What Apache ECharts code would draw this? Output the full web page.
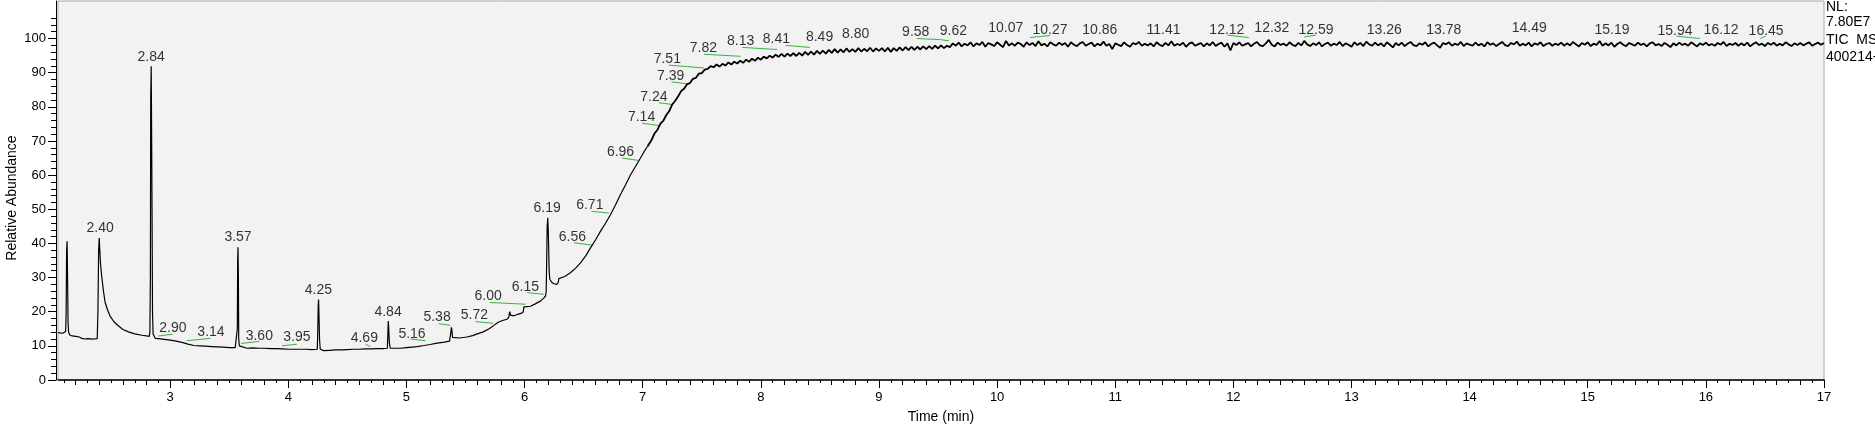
<!DOCTYPE html>
<html>
<head>
<meta charset="utf-8">
<script src="https://cdn.jsdelivr.net/npm/echarts@6/dist/echarts.min.js"></script>
<style>
  html, body { margin: 0; padding: 0; background: #fff; }
  #chartDiv { width: 1875px; height: 429px; }
</style>
</head>
<body>
<div id="chartDiv"></div>
<script>
// chart
let myChart = echarts.init(document.getElementById('chartDiv'));
window.onresize = myChart.resize;

// axis values
const xMin = 2.05, xMax = 17;
const yMin = 0, yMax = 111;
const timeLabels = [3, 4, 5, 6, 7, 8, 9, 10, 11, 12, 13, 14, 15, 16, 17];
const abundLabels = [0, 10, 20, 30, 40, 50, 60, 70, 80, 90, 100];

// trace before the plateau: [time, relative abundance]
const earlyTrace = [
    [2.051,13.9],[2.07,13.8],[2.09,13.7],[2.105,13.8],[2.115,14.2],[2.119,20],[2.123,38],[2.127,40.6],
    [2.131,30],[2.135,17],[2.14,14],[2.15,13.2],[2.17,12.9],[2.20,12.8],[2.23,12.6],[2.25,12.2],
    [2.28,12.0],[2.30,12.1],[2.35,12.0],[2.382,12.1],[2.388,20],[2.394,38],[2.399,41.6],[2.404,38],
    [2.41,34],[2.42,30.4],[2.435,26],[2.449,22.7],[2.47,20.5],[2.49,18.8],[2.52,17.2],[2.562,15.8],
    [2.60,14.8],[2.647,14.1],[2.70,13.5],[2.76,13.1],[2.80,12.9],[2.822,12.8],[2.828,14],[2.832,30],
    [2.835,82.7],[2.839,91.9],[2.843,70],[2.846,49.6],[2.850,20],[2.855,13.5],[2.873,12.2],
    [2.90,12.1],[2.95,11.9],[3.00,11.7],[3.05,11.4],[3.10,11.0],[3.15,10.5],[3.20,10.1],[3.25,10.0],
    [3.30,9.9],[3.35,9.8],[3.40,9.7],[3.45,9.6],[3.50,9.5],[3.55,9.5],[3.565,9.6],[3.568,15],
    [3.571,35],[3.574,38.9],[3.577,30],[3.580,12],[3.585,10],[3.60,9.5],[3.65,9.3],[3.70,9.4],
    [3.75,9.3],[3.80,9.3],[3.85,9.2],[3.90,9.2],[3.95,9.1],[4.00,9.0],[4.05,9.0],[4.10,9.0],
    [4.15,9.0],[4.20,8.9],[4.245,9.0],[4.249,14],[4.253,22],[4.256,23.6],[4.26,18],[4.264,12],
    [4.27,9.0],[4.277,8.5],[4.30,8.6],[4.35,8.7],[4.40,8.8],[4.45,8.8],[4.50,8.9],[4.55,9.0],
    [4.60,9.0],[4.65,9.1],[4.70,9.1],[4.75,9.2],[4.80,9.2],[4.838,9.3],[4.842,13],[4.846,17.3],
    [4.85,15],[4.855,11],[4.862,9.3],[4.878,9.0],[4.95,9.3],[5.00,9.5],[5.09,9.8],[5.15,10.1],
    [5.20,10.4],[5.26,10.8],[5.32,11.1],[5.365,11.4],[5.372,11.5],[5.376,14],[5.380,15.4],[5.384,14.8],
    [5.39,12.5],[5.40,12.0],[5.45,12.3],[5.51,12.6],[5.56,13.0],[5.60,13.5],[5.65,14.1],[5.70,15.0],
    [5.74,16.0],[5.78,17.0],[5.82,17.5],[5.852,17.8],[5.866,18.4],[5.874,20.0],[5.88,19.0],[5.908,18.8],
    [5.94,19.2],[5.97,19.5],[5.988,19.9],[5.994,21.4],[5.999,21.7],[6.02,21.5],[6.05,21.6],[6.09,22.3],
    [6.134,23.1],[6.16,23.9],[6.177,24.6],[6.183,26],[6.187,35],[6.191,45],[6.196,47.5],[6.200,44],
    [6.204,38],[6.208,32],[6.213,29.5],[6.233,28.5],[6.25,28.2],[6.27,28.0],[6.285,28.6],[6.29,29.7],
    [6.295,29.2],[6.304,29.5],[6.34,30.3],[6.388,31.4],[6.43,32.7],[6.473,34.3],[6.52,36.5],[6.558,38.7],
    [6.60,41.0],[6.643,43.6],[6.685,45.9],[6.727,48.4],[6.77,51.3],[6.812,54.3],[6.855,57.2],[6.897,60.1],
    [6.94,62.6],[6.981,65.0],[7.01,66.8],[7.04,68.4]
];

// noisy plateau, sampled every 0.025 min from 7.05
const plateauStart = 7.05, plateauStep = 0.025;
const plateauAbund = [
    68.9, 70.3, 72.2, 73.3, 75.1, 76.0, 77.6, 78.8, 80.7, 81.8,
    83.1, 84.6, 85.3, 86.6, 87.0, 88.2, 88.5, 89.7, 89.9, 90.9,
    91.1, 91.9, 91.6, 92.4, 91.8, 92.6, 92.1, 93.0, 92.4, 93.2,
    92.7, 93.5, 92.9, 93.8, 93.2, 94.1, 93.5, 94.4, 93.8, 94.7,
    94.2, 95.0, 94.4, 95.3, 94.6, 95.5, 94.7, 95.6, 94.9, 95.7,
    94.9, 95.8, 95.0, 96.1, 95.2, 96.2, 95.3, 96.4, 95.5, 96.5,
    95.6, 96.7, 95.8, 96.9, 95.9, 96.8, 96.0, 97.1, 96.1, 96.9,
    96.1, 97.2, 96.2, 97.0, 96.3, 97.3, 96.2, 97.1, 96.4, 97.2,
    96.2, 97.3, 96.1, 97.2, 96.4, 97.4, 96.5, 97.5, 96.6, 97.6,
    96.7, 97.6, 96.8, 97.7, 96.9, 97.8, 97.0, 97.9, 97.1, 98.0,
    97.2, 97.9, 97.5, 98.6, 97.9, 98.8, 97.7, 98.5, 98.0, 98.9,
    97.7, 98.6, 98.1, 99.0, 97.6, 98.7, 98.3, 97.8, 98.9, 98.2,
    97.5, 99.3, 98.0, 98.6, 97.9, 98.8, 98.4, 97.6, 98.9, 98.1,
    98.7, 97.8, 99.2, 98.0, 98.5, 97.7, 98.9, 98.3, 97.9, 98.8,
    98.1, 98.7, 97.6, 98.9, 98.2, 97.8, 98.6, 99.0, 97.9, 98.4,
    98.8, 97.7, 98.5, 98.0, 99.1, 97.9, 98.4, 96.9, 98.6, 98.2,
    97.8, 98.9, 98.1, 97.6, 98.7, 98.3, 99.0, 97.9, 98.5, 98.0,
    98.6, 97.7, 98.9, 98.2, 97.8, 98.7, 98.0, 99.2, 97.9, 98.4,
    98.1, 98.8, 97.6, 98.5, 98.9, 97.9, 98.3, 98.7, 97.7, 98.6,
    98.0, 99.0, 97.8, 98.4, 98.8, 97.6, 98.6, 96.5, 98.7, 98.1,
    98.9, 97.9, 98.3, 98.7, 97.7, 98.5, 99.0, 98.0, 97.8, 98.6,
    99.6, 98.2, 97.7, 98.8, 98.1, 98.5, 97.9, 98.9, 98.2, 97.8,
    98.7, 98.0, 99.3, 98.3, 97.8, 98.6, 98.1, 98.9, 97.7, 98.4,
    98.8, 97.9, 98.5, 98.1, 99.0, 97.8, 98.6, 98.2, 97.6, 98.9,
    98.1, 98.7, 97.8, 99.1, 98.3, 97.9, 98.8, 98.0, 98.6, 97.7,
    98.9, 98.2, 97.4, 98.7, 98.0, 98.8, 97.8, 98.5, 99.0, 98.1,
    97.8, 98.6, 98.2, 98.9, 97.7, 98.4, 98.8, 98.0, 97.3, 98.7,
    98.3, 98.9, 97.9, 98.5, 98.1, 99.0, 97.8, 98.6, 98.2, 97.9,
    98.8, 98.0, 98.5, 97.7, 98.9, 98.2, 98.6, 97.8, 98.4, 99.0,
    98.1, 97.8, 98.7, 98.3, 99.1, 97.9, 98.5, 98.0, 98.8, 97.7,
    98.6, 98.2, 98.9, 97.8, 98.4, 98.7, 97.9, 98.5, 98.1, 98.8,
    97.9, 98.6, 98.0, 99.0, 98.3, 97.7, 98.7, 98.2, 98.9, 97.8,
    98.5, 98.1, 99.3, 97.9, 98.6, 98.0, 98.8, 97.6, 98.4, 98.9,
    98.2, 97.8, 98.7, 98.3, 97.9, 98.8, 98.1, 98.5, 97.7, 98.6,
    98.9, 98.0, 98.4, 97.8, 98.7, 98.2, 97.5, 98.6, 98.0, 98.8,
    98.1, 98.5, 97.9, 98.9, 98.3, 97.7, 98.6, 98.1, 98.8, 98.0,
    98.4, 97.9, 98.7, 98.2, 99.0, 97.8, 98.5, 98.1, 98.7, 97.9,
    98.6, 98.0, 98.8, 97.7, 98.4, 98.9, 98.1, 98.5, 97.8, 98.7,
    98.2, 98.8, 97.9, 98.5, 98.0, 98.9, 98.3, 97.8, 98.6, 98.1,
    98.7, 98.0, 98.5, 98.9, 97.9, 98.4, 98.8, 98.2, 98.7
];

// peak labels: text, label centre time, label centre height
const peakText = ['2.40','2.84','2.90','3.14','3.57','3.60','3.95','4.25','4.69','4.84','5.16','5.38','5.72',
    '6.00','6.15','6.19','6.56','6.71','6.96','7.14','7.24','7.39','7.51','7.82','8.13','8.41','8.49','8.80',
    '9.58','9.62','10.07','10.27','10.86','11.41','12.12','12.32','12.59','13.26','13.78','14.49','15.19',
    '15.94','16.12','16.45'];
const peakLabelTime = [2.407,2.839,3.023,3.345,3.574,3.754,4.073,4.254,4.643,4.844,5.047,5.259,5.575,
    5.691,6.007,6.191,6.405,6.552,6.812,6.990,7.095,7.236,7.208,7.513,7.829,8.131,8.497,8.802,
    9.311,9.630,10.073,10.448,10.869,11.409,11.945,12.326,12.699,13.278,13.781,14.505,15.205,
    15.739,16.129,16.510];
const peakLabelHeight = [44.6,94.6,15.1,13.9,41.9,12.9,12.5,26.2,12.2,19.9,13.4,18.3,19.0,
    24.6,27.3,50.4,41.9,51.2,66.7,76.9,82.9,89.0,93.9,97.1,99.2,99.7,100.3,101.2,
    101.8,102.2,103.0,102.6,102.6,102.6,102.6,103.0,102.6,102.6,102.6,103.0,102.6,
    102.2,102.6,102.2];

// green baselines: [t1, v1, t2, v2]
const baselines = [
    [2.90,12.9,3.02,13.4],[3.14,11.5,3.34,12.2],[3.60,10.7,3.754,11.3],[3.946,10.0,4.073,10.5],
    [4.652,10.5,4.694,9.8],[5.033,12.0,5.16,11.5],[5.273,16.5,5.372,16.0],[5.584,17.1,5.734,16.6],
    [5.705,22.7,6.007,22.2],[6.022,25.6,6.163,25.1],[6.416,40.2,6.572,39.5],[6.566,49.4,6.713,48.9],
    [6.826,65.0,6.967,64.3],[6.996,75.2,7.145,74.5],[7.137,81.2,7.25,80.7],[7.244,87.3,7.39,86.7],
    [7.221,92.2,7.518,91.4],[7.518,95.4,7.829,94.8],[7.843,97.4,8.139,96.8],[8.21,98.0,8.415,97.4],
    [9.32,100.0,9.52,99.7],[9.52,99.7,9.593,99.3],[10.279,100.3,10.448,100.9],[11.95,101.0,12.13,100.3],
    [12.60,100.5,12.70,101.0],[15.75,100.7,15.95,100.0],[16.46,100.0,16.505,100.7]
];

// tick positions
let evenTenths = [], oddTenths = [];
for (let i = 21; i <= 170; i++) {
    if (i % 10 === 0) continue;
    (i % 2 === 0 ? evenTenths : oddTenths).push(i / 10);
}
let abundMinor = [];
for (let v = 2; v <= 106; v += 2) {
    if (v % 10 !== 0) abundMinor.push(v);
}

let plateauTrace = [earlyTrace[earlyTrace.length - 1]].concat(plateauAbund.map(function (v, i) {
    return [Math.round((plateauStart + i * plateauStep) * 1000) / 1000, v];
}));

const font = 'Liberation Sans, Arial, sans-serif';

let baseX = {
    type: 'value', min: xMin, max: xMax, gridIndex: 0, position: 'bottom',
    splitLine: {show: false},
    axisLine: {show: false},
    axisLabel: {show: false},
    axisTick: {show: false}
};
let baseY = {
    type: 'value', min: yMin, max: yMax, gridIndex: 0, position: 'left', offset: 2,
    splitLine: {show: false},
    axisLine: {show: false},
    axisLabel: {show: false},
    axisTick: {show: false}
};
function $x(o) { return Object.assign({}, baseX, o); }
function $y(o) { return Object.assign({}, baseY, o); }

let option = {
    backgroundColor: '#ffffff',
    animation: false,
    grid: {
        left: 58, right: 51, top: 1, bottom: 48,
        show: true, backgroundColor: '#f2f2f2', borderColor: '#a8a8a8', borderWidth: 1
    },
    xAxis: [
        $x({
            name: 'Time (min)', nameLocation: 'middle', nameGap: 30,
            nameTextStyle: {fontFamily: font, fontSize: 14, color: '#000'},
            axisLine: {show: true, onZero: false, lineStyle: {color: '#000', width: 1.5}},
            axisTick: {show: true, length: 8, customValues: timeLabels, lineStyle: {color: '#000'}},
            axisLabel: {show: true, customValues: timeLabels, margin: 11, fontFamily: font, fontSize: 13, color: '#000'}
        }),
        $x({axisTick: {show: true, length: 5, customValues: evenTenths, lineStyle: {color: '#000'}}}),
        $x({axisTick: {show: true, length: 3, customValues: oddTenths, lineStyle: {color: '#000'}}})
    ],
    yAxis: [
        $y({
            axisLine: {show: true, onZero: false, lineStyle: {color: '#000', width: 1}},
            axisTick: {show: true, length: 8, customValues: abundLabels, lineStyle: {color: '#000'}},
            axisLabel: {show: true, customValues: abundLabels, margin: 10, fontFamily: font, fontSize: 13, color: '#000'}
        }),
        $y({axisTick: {show: true, length: 5, customValues: abundMinor, lineStyle: {color: '#000'}}})
    ],
    graphic: [
        {type: 'text', x: 12, y: 198, rotation: Math.PI / 2,
            style: {text: 'Relative Abundance', font: '14px ' + font, fill: '#000', align: 'center', verticalAlign: 'middle'}},
        {type: 'text', left: 1826, top: 0, style: {text: 'NL:', font: '14px ' + font, fill: '#000'}},
        {type: 'text', left: 1826, top: 15, style: {text: '7.80E7', font: '14px ' + font, fill: '#000'}},
        {type: 'text', left: 1826, top: 33, style: {text: 'TIC  MS', font: '14px ' + font, fill: '#000'}},
        {type: 'text', left: 1826, top: 50, style: {text: '400214-', font: '14px ' + font, fill: '#000'}}
    ],
    series: [
        {
            type: 'lines', coordinateSystem: 'cartesian2d', xAxisIndex: 0, yAxisIndex: 0, silent: true,
            lineStyle: {color: '#3cb043', width: 1, opacity: 1},
            data: baselines.map(function (b) { return {coords: [[b[0], b[1]], [b[2], b[3]]]}; })
        },
        {
            type: 'line', xAxisIndex: 0, yAxisIndex: 0, silent: true,
            showSymbol: false, symbol: 'none', sampling: null,
            lineStyle: {color: '#000', width: 1.2},
            data: earlyTrace
        },
        {
            type: 'line', xAxisIndex: 0, yAxisIndex: 0, silent: true,
            showSymbol: false, symbol: 'none', sampling: null,
            lineStyle: {color: '#000', width: 1.8},
            data: plateauTrace
        },
        {
            type: 'scatter', xAxisIndex: 0, yAxisIndex: 0, silent: true,
            symbolSize: 0,
            label: {show: true, position: 'inside', formatter: '{b}', fontFamily: font, fontSize: 14, color: '#000'},
            data: peakText.map(function (t, i) { return {name: t, value: [peakLabelTime[i], peakLabelHeight[i]]}; })
        }
    ]
};

myChart.setOption(option);
</script>
</body>
</html>
